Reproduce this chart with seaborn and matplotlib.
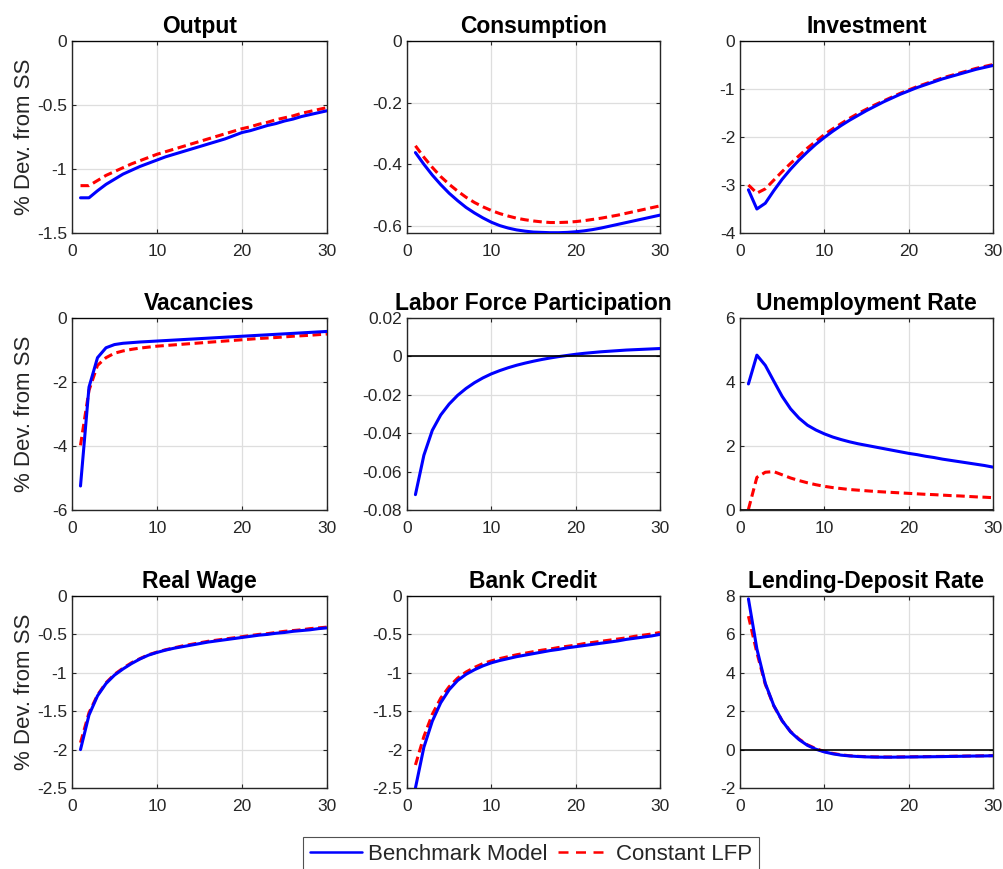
import numpy as np
import pandas as pd
import seaborn as sns
import matplotlib.pyplot as plt

# impulse-response horizon
horizon = list(range(1, 31))

# Output
output_bench = [-1.225, -1.225, -1.17, -1.12, -1.08, -1.04, -1.01, -0.98, -0.955, -0.93,
                -0.905, -0.885, -0.865, -0.845, -0.825, -0.805, -0.785, -0.765, -0.74, -0.715,
                -0.70, -0.68, -0.66, -0.645, -0.625, -0.61, -0.59, -0.575, -0.56, -0.545]
output_clfp = [-1.13, -1.13, -1.09, -1.05, -1.02, -0.99, -0.96, -0.935, -0.91, -0.885,
               -0.865, -0.845, -0.825, -0.805, -0.785, -0.765, -0.745, -0.725, -0.705, -0.685,
               -0.67, -0.65, -0.635, -0.615, -0.60, -0.585, -0.565, -0.55, -0.535, -0.52]

# Consumption
cons_bench = [-0.362, -0.40, -0.435, -0.466, -0.494, -0.518, -0.54, -0.558, -0.574, -0.588,
              -0.599, -0.607, -0.613, -0.617, -0.620, -0.621, -0.622, -0.622, -0.621, -0.619,
              -0.616, -0.612, -0.607, -0.601, -0.595, -0.589, -0.583, -0.577, -0.571, -0.565]
cons_clfp = [-0.34, -0.377, -0.41, -0.44, -0.465, -0.487, -0.507, -0.524, -0.538, -0.55,
             -0.56, -0.568, -0.575, -0.58, -0.584, -0.587, -0.589, -0.589, -0.588, -0.586,
             -0.583, -0.579, -0.575, -0.57, -0.565, -0.559, -0.553, -0.547, -0.541, -0.535]

# Investment
inv_bench = [-3.10, -3.50, -3.38, -3.12, -2.88, -2.67, -2.48, -2.31, -2.15, -2.01,
             -1.88, -1.76, -1.65, -1.55, -1.45, -1.36, -1.27, -1.19, -1.11, -1.04,
             -0.97, -0.91, -0.85, -0.79, -0.74, -0.69, -0.64, -0.59, -0.55, -0.51]
inv_clfp = [-3.00, -3.17, -3.08, -2.90, -2.72, -2.55, -2.39, -2.23, -2.09, -1.95,
            -1.83, -1.72, -1.61, -1.51, -1.42, -1.33, -1.25, -1.17, -1.09, -1.02,
            -0.95, -0.89, -0.83, -0.77, -0.72, -0.67, -0.62, -0.57, -0.53, -0.49]

# Vacancies
vac_bench = [-5.25, -2.16, -1.24, -0.93, -0.83, -0.79, -0.77, -0.75, -0.735, -0.72,
             -0.705, -0.69, -0.675, -0.66, -0.645, -0.63, -0.615, -0.60, -0.585, -0.57,
             -0.555, -0.54, -0.525, -0.51, -0.495, -0.48, -0.465, -0.45, -0.435, -0.42]
vac_clfp = [-3.98, -2.26, -1.48, -1.24, -1.10, -1.03, -0.98, -0.94, -0.91, -0.88,
            -0.86, -0.84, -0.82, -0.80, -0.78, -0.76, -0.74, -0.72, -0.70, -0.68,
            -0.66, -0.64, -0.625, -0.61, -0.59, -0.57, -0.555, -0.54, -0.52, -0.50]

# Labor force participation (held constant in the second model, so no red line)
lfp_bench = [-0.0720, -0.0515, -0.0385, -0.0305, -0.0248, -0.0203, -0.0167, -0.0137, -0.0112, -0.0091,
             -0.0074, -0.0059, -0.0046, -0.0035, -0.0025, -0.0016, -0.0008, -0.0001, 0.0005, 0.0011,
             0.0016, 0.0020, 0.0024, 0.0027, 0.0030, 0.0033, 0.0035, 0.0037, 0.0039, 0.0041]
lfp_clfp = None

# Unemployment rate
unemp_bench = [3.94, 4.84, 4.52, 4.03, 3.55, 3.16, 2.87, 2.65, 2.50, 2.38,
               2.28, 2.20, 2.13, 2.07, 2.02, 1.97, 1.92, 1.87, 1.82, 1.77,
               1.73, 1.68, 1.64, 1.59, 1.55, 1.51, 1.47, 1.43, 1.39, 1.34]
unemp_clfp = [0.02, 1.02, 1.18, 1.20, 1.10, 1.00, 0.92, 0.85, 0.79, 0.74,
              0.70, 0.67, 0.64, 0.62, 0.60, 0.58, 0.565, 0.55, 0.535, 0.52,
              0.505, 0.49, 0.48, 0.465, 0.45, 0.44, 0.425, 0.41, 0.40, 0.385]

# Real wage
wage_bench = [-2.00, -1.55, -1.30, -1.14, -1.03, -0.95, -0.88, -0.82, -0.77, -0.735,
              -0.705, -0.68, -0.66, -0.64, -0.62, -0.60, -0.585, -0.57, -0.555, -0.54,
              -0.525, -0.51, -0.50, -0.485, -0.475, -0.46, -0.45, -0.44, -0.425, -0.415]
wage_clfp = [-1.91, -1.52, -1.29, -1.13, -1.02, -0.94, -0.87, -0.815, -0.765, -0.73,
             -0.70, -0.675, -0.65, -0.63, -0.61, -0.59, -0.575, -0.56, -0.545, -0.53,
             -0.515, -0.50, -0.49, -0.475, -0.46, -0.45, -0.44, -0.425, -0.415, -0.405]

# Bank credit
credit_bench = [-2.50, -1.97, -1.63, -1.39, -1.22, -1.10, -1.02, -0.96, -0.91, -0.87,
                -0.84, -0.815, -0.79, -0.77, -0.75, -0.73, -0.71, -0.695, -0.675, -0.66,
                -0.645, -0.63, -0.615, -0.60, -0.585, -0.565, -0.55, -0.535, -0.52, -0.50]
credit_clfp = [-2.20, -1.83, -1.54, -1.33, -1.18, -1.07, -0.99, -0.93, -0.88, -0.845,
               -0.815, -0.79, -0.765, -0.745, -0.725, -0.705, -0.69, -0.67, -0.655, -0.64,
               -0.62, -0.605, -0.59, -0.575, -0.56, -0.545, -0.525, -0.51, -0.495, -0.475]

# Lending-deposit spread
spread_bench = [7.85, 5.25, 3.45, 2.30, 1.50, 0.92, 0.52, 0.22, 0.02, -0.12,
                -0.22, -0.29, -0.33, -0.36, -0.38, -0.39, -0.395, -0.395, -0.39, -0.385,
                -0.38, -0.375, -0.37, -0.365, -0.355, -0.35, -0.34, -0.335, -0.33, -0.32]
spread_clfp = [6.95, 5.05, 3.40, 2.28, 1.50, 0.94, 0.55, 0.25, 0.05, -0.10,
               -0.20, -0.27, -0.32, -0.35, -0.37, -0.38, -0.385, -0.385, -0.38, -0.375,
               -0.37, -0.365, -0.36, -0.355, -0.35, -0.34, -0.335, -0.33, -0.32, -0.315]

titles = ['Output', 'Consumption', 'Investment',
          'Vacancies', 'Labor Force Participation', 'Unemployment Rate',
          'Real Wage', 'Bank Credit', 'Lending-Deposit Rate']
bench_series = [output_bench, cons_bench, inv_bench, vac_bench, lfp_bench,
                unemp_bench, wage_bench, credit_bench, spread_bench]
clfp_series = [output_clfp, cons_clfp, inv_clfp, vac_clfp, lfp_clfp,
               unemp_clfp, wage_clfp, credit_clfp, spread_clfp]
y_limits = [(-1.5, 0), (-0.623, 0), (-4, 0), (-6, 0), (-0.08, 0.02), (0, 6),
            (-2.5, 0), (-2.5, 0), (-2, 8)]
y_ticks = [[-1.5, -1, -0.5, 0], [-0.6, -0.4, -0.2, 0], [-4, -3, -2, -1, 0],
           [-6, -4, -2, 0], [-0.08, -0.06, -0.04, -0.02, 0, 0.02], [0, 2, 4, 6],
           [-2.5, -2, -1.5, -1, -0.5, 0], [-2.5, -2, -1.5, -1, -0.5, 0], [-2, 0, 2, 4, 6, 8]]

sns.set_theme(style='white')
plt.rcParams['font.family'] = ['Liberation Sans', 'DejaVu Sans']

W, H = 1004, 869
fig = plt.figure(figsize=(W / 100, H / 100), dpi=100)

col_px = [(72, 327), (407, 660), (740, 993)]
row_px = [(41, 233), (318, 510), (596, 788)]

dark = '#262626'

for i, title in enumerate(titles):
    r, c = divmod(i, 3)
    x0, x1 = col_px[c]
    y0, y1 = row_px[r]
    ax = fig.add_axes([x0 / W, 1 - y1 / H, (x1 - x0) / W, (y1 - y0) / H])
    df = pd.DataFrame({'t': horizon, 'bench': bench_series[i]})
    if clfp_series[i] is not None:
        df['clfp'] = clfp_series[i]
        sns.lineplot(data=df, x='t', y='clfp', ax=ax, color='#ff0000', linewidth=2.2,
                     linestyle=(0, (2.8, 1.5)), zorder=3)
    sns.lineplot(data=df, x='t', y='bench', ax=ax, color='#0000ff', linewidth=2.2, zorder=3)
    ax.axhline(0, color='black', linewidth=1.2, zorder=4)
    ax.set_xlim(0, 30)
    ax.set_ylim(*y_limits[i])
    ax.set_xticks([0, 10, 20, 30])
    ax.set_yticks(y_ticks[i])
    ax.set_yticklabels(['%g' % v for v in y_ticks[i]])
    ax.grid(True, color='#dedede', linewidth=0.9)
    ax.set_axisbelow(True)
    for s in ax.spines.values():
        s.set_color(dark)
        s.set_linewidth(1.0)
        s.set_visible(True)
    ax.tick_params(direction='in', length=3, width=0.8, colors=dark, labelsize=12.5,
                   top=True, right=True, bottom=True, left=True)
    ax.tick_params(axis='y', pad=3.5)
    ax.tick_params(axis='x', pad=8)
    ax.set_title(title, fontsize=16.5, fontweight='bold', color='black', pad=6)
    ax.set_xlabel('')
    if c == 0:
        ax.set_ylabel('% Dev. from SS', fontsize=16, color=dark)
        ax.yaxis.set_label_coords(-0.145, 0.5)
    else:
        ax.set_ylabel('')

handles = [plt.Line2D([], [], color='#0000ff', linewidth=1.8),
           plt.Line2D([], [], color='#ff0000', linewidth=1.8, linestyle=(0, (4, 3)))]
leg = fig.legend(handles, ['Benchmark Model', 'Constant LFP'], ncol=2,
                 loc='upper center', bbox_to_anchor=(531 / W, 1 - 837 / H),
                 frameon=True, fancybox=False, fontsize=16, handlelength=2.35,
                 handletextpad=0.25, columnspacing=0.5, borderpad=0.3,
                 borderaxespad=0)
leg.get_frame().set_edgecolor(dark)
leg.get_frame().set_linewidth(0.8)

fig.savefig('out.png', dpi=100)
